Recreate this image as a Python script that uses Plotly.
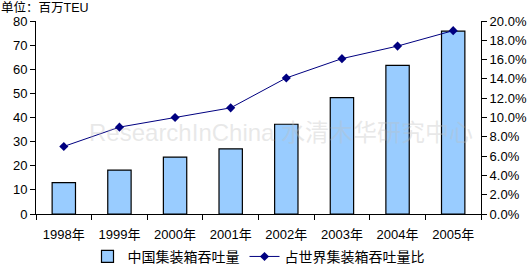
import plotly.graph_objects as go

years = ["1998年", "1999年", "2000年", "2001年", "2002年", "2003年", "2004年", "2005年"]
throughput = [13.0, 18.2, 23.6, 27.0, 37.2, 48.2, 61.6, 75.8]
share = [7.0, 9.0, 10.0, 11.0, 14.1, 16.1, 17.4, 19.0]
left_ticks = [0, 10, 20, 30, 40, 50, 60, 70, 80]
right_ticks = [0, 2, 4, 6, 8, 10, 12, 14, 16, 18, 20]

FONT = "Liberation Sans, Noto Sans CJK SC"

fig = go.Figure()
fig.add_trace(go.Bar(
    x=years, y=throughput, name="中国集装箱吞吐量",
    marker=dict(color="#99CCFF", line=dict(color="black", width=1.2)),
))
fig.add_trace(go.Scatter(
    x=years, y=share, name="占世界集装箱吞吐量比", yaxis="y2",
    mode="lines+markers",
    line=dict(color="#000080", width=1),
    marker=dict(symbol="diamond", size=7, color="#000080"),
))

fig.add_annotation(
    text="单位：百万TEU", xref="paper", yref="paper", x=-0.081, y=1.072,
    xanchor="left", yanchor="middle", showarrow=False, borderpad=0,
    font=dict(family=FONT, size=12.5, color="black"),
)
fig.add_annotation(
    text="ResearchInChina 水清木华研究中心", xref="paper", yref="paper", x=0.55, y=0.42,
    showarrow=False, font=dict(family=FONT, size=24, color="rgba(190,190,190,0.35)"),
)

fig.update_layout(
    width=528, height=267,
    margin=dict(l=36, r=47, t=21, b=53, autoexpand=False),
    paper_bgcolor="white", plot_bgcolor="white",
    font=dict(family=FONT, size=13, color="black"),
    bargap=0.58,
    showlegend=True,
    legend=dict(orientation="h", x=0.5, xanchor="center", yref="paper",
                y=-0.222, yanchor="middle",
                font=dict(size=14), tracegroupgap=0),
    xaxis=dict(
        type="category", showline=True, linecolor="black", linewidth=1,
        ticks="outside", ticklen=5, tickcolor="black", tickson="boundaries",
        showgrid=False, tickfont=dict(size=13), ticklabelstandoff=8,
    ),
    yaxis=dict(
        range=[0, 80], tickvals=left_ticks, showline=True, linecolor="black",
        linewidth=1, ticks="outside", ticklen=5, tickcolor="black",
        showgrid=False, zeroline=False, tickfont=dict(size=13),
    ),
    yaxis2=dict(
        range=[0, 20], tickvals=right_ticks,
        ticktext=[f"{v:.1f}%" for v in right_ticks],
        overlaying="y", side="right", showline=True, linecolor="black",
        linewidth=1, ticks="outside", ticklen=5, tickcolor="black",
        showgrid=False, zeroline=False, tickfont=dict(size=13),
    ),
)

fig.write_html("out.html")
